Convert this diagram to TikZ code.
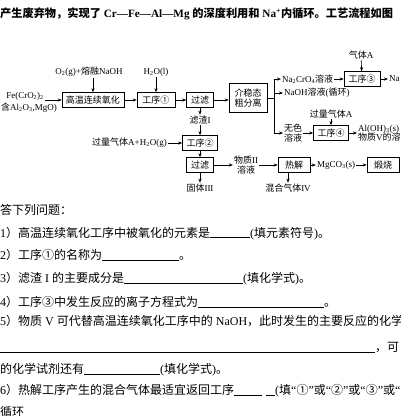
\documentclass[tikz,border=0pt]{standalone}
\usepackage{fontspec}
\setmainfont{Liberation Serif}
\newfontfamily\cjk{Noto Sans CJK SC}
\usetikzlibrary{arrows.meta}
% switch to the CJK font by character class
\XeTeXinterchartokenstate=1
\newXeTeXintercharclass\cjkcls
\newcount\cjkc
\newcommand\setcjk[2]{\cjkc=#1\relax
  \loop\XeTeXcharclass\cjkc=\cjkcls\relax
  \ifnum\cjkc<#2\relax\advance\cjkc by 1\repeat}
\setcjk{"4E00}{"9FFF}
\setcjk{"3000}{"303F}
\setcjk{"FF00}{"FFEF}
\setcjk{"2460}{"2473}
\XeTeXcharclass"201C=0 \XeTeXcharclass"201D=0 \XeTeXcharclass"2014=0
\XeTeXinterchartoks 0 \cjkcls={\cjk}
\XeTeXinterchartoks 4095 \cjkcls={\cjk}
\XeTeXinterchartoks \cjkcls 0={\rmfamily}
\XeTeXinterchartoks \cjkcls 4095={\rmfamily}
\newcommand\fs{\fontsize{9}{11.5}\selectfont}
\newcommand\qs{\fontsize{12}{14}\selectfont}
\newcommand\ts{\fontsize{11.2}{14}\selectfont\bfseries}
\newcommand\blank[1]{\rule[-0.5pt]{#1}{0.5pt}}
\tikzset{
  procbox/.style={draw, line width=0.6pt, minimum height=15pt, inner xsep=4pt, inner ysep=1pt, font=\fs},
  txt/.style={inner sep=1pt, font=\fs, align=center},
  arr/.style={-{Stealth[length=4pt,width=3.2pt]}, line width=0.6pt},
  qline/.style={anchor=base west, inner sep=0pt, font=\qs},
}
\begin{document}
\begin{tikzpicture}[x=1pt,y=-1pt]
  \fill[white] (0,0) rectangle (400,416);
  \useasboundingbox (0,0) rectangle (400,416);
  \clip (0,0) rectangle (400,416);
  % heading line
  \node[qline, font=\ts] (title) at (0,17.5) {产生废弃物，实现了 Cr—Fe—Al—Mg 的深度利用和 Na\textsuperscript{+}内循环。工艺流程如图};
  % flow chart
  \node[txt] (feed) at (25,96) {Fe(CrO\textsubscript{2})\textsubscript{2}};
  \node[txt, anchor=west] (feed2) at (0,108) {含Al\textsubscript{2}O\textsubscript{3},MgO)};
  \node[procbox, minimum width=60] (gw) at (93,100) {高温连续氧化};
  \node[procbox, minimum width=38] (p1) at (156,100) {工序①};
  \node[procbox, minimum width=27] (f1) at (200,100) {过滤};
  \node[procbox, minimum width=38, minimum height=29, align=center] (js) at (248,98) {介稳态\\[-1pt]粗分离};
  \node[txt] (o2) at (89,72) {O\textsubscript{2}(g)+熔融NaOH};
  \node[txt] (h2o) at (156,72) {H\textsubscript{2}O(l)};
  \draw[arr] (feed.east |- gw) -- (gw);
  \draw[arr] (o2.south -| gw) -- (gw);
  \draw[arr] (h2o) -- (p1);
  \draw[arr] (gw) -- (p1);
  \draw[arr] (p1) -- (f1);
  \draw[arr] (f1) -- (f1 -| js.west);
  % splitting after the separation
  \coordinate (br) at (274,98);
  \node[txt, anchor=west] (nc) at (281,79) {Na\textsubscript{2}CrO\textsubscript{4}溶液};
  \node[txt, anchor=west] (nh) at (283,93) {NaOH溶液(循环)};
  \node[txt, anchor=west] (ws) at (283,133) {无色\\[-2pt]溶液};
  \draw[line width=0.6pt] (js.east) -- (br);
  \draw[line width=0.6pt] (br |- nc) -- (br |- ws);
  \draw[arr] (br |- nc) -- (nc);
  \draw[arr] (br |- nh) -- (nh);
  \draw[arr] (br |- ws) -- (ws);
  \node[procbox, minimum width=36] (p3) at (362,79) {工序③};
  \node[txt] (ga) at (361,55) {气体A};
  \node[txt, anchor=west] (na) at (388,79) {Na};
  \draw[arr] (nc) -- (p3);
  \draw[arr] (ga) -- (p3);
  \draw[arr] (p3) -- (na);
  \node[txt] (gl) at (331,114) {过量气体A};
  \node[procbox, minimum width=34] (p4) at (331,133) {工序④};
  \node[txt, anchor=west, align=left] (al) at (357,133) {Al(OH)\textsubscript{3}(s)\\[-2pt]物质V的溶};
  \draw[arr] (gl) -- (p4);
  \draw[arr] (ws) -- (p4);
  \draw[arr] (p4) -- (al);
  % lower branch
  \node[txt] (lz) at (200,120) {滤渣I};
  \node[procbox, minimum width=29] (p2) at (200,143) {工序②};
  \node[txt, anchor=east] (gq) at (168,143) {过量气体A+H\textsubscript{2}O(g)};
  \node[procbox, minimum width=27] (f2) at (200,165) {过滤};
  \node[txt] (gt) at (200,188) {固体III};
  \node[txt] (w2) at (246,165) {物质II\\[-1pt]溶液};
  \node[procbox, minimum width=32] (rj) at (294,165) {热解};
  \node[txt] (hq) at (288,188) {混合气体IV};
  \node[txt] (mg) at (336,165) {MgCO\textsubscript{3}(s)};
  \node[procbox, minimum width=32] (ds) at (383,165) {煅烧};
  \draw[arr] (f1) -- (lz);
  \draw[arr] (lz) -- (p2);
  \draw[arr] (gq) -- (p2);
  \draw[arr] (p2) -- (f2);
  \draw[arr] (f2) -- (gt);
  \draw[arr] (f2) -- (w2);
  \draw[arr] (w2) -- (rj);
  \draw[arr] (rj.south -| hq) -- (hq);
  \draw[arr] (rj) -- (mg);
  \draw[arr] (mg) -- (ds);
  % questions
  \node[qline] (q0) at (0,214.5) {答下列问题：};
  \node[qline] (q1) at (0,237) {1）高温连续氧化工序中被氧化的元素是\blank{40pt}(填元素符号)。};
  \node[qline] (q2) at (0,259.5) {2）工序①的名称为\blank{77pt}。};
  \node[qline] (q3) at (0,282.5) {3）滤渣 I 的主要成分是\blank{119pt}(填化学式)。};
  \node[qline] (q4) at (0,306.5) {4）工序③中发生反应的离子方程式为\blank{126pt}。};
  \node[qline] (q5) at (0,325.5) {5）物质 V 可代替高温连续氧化工序中的 NaOH，此时发生的主要反应的化学方};
  \node[qline] (q5b) at (0,351.5) {\blank{375pt}，可};
  \node[qline] (q5c) at (0,373.5) {的化学试剂还有\blank{76pt}(填化学式)。};
  \node[qline] (q6) at (0,394.5) {6）热解工序产生的混合气体最适宜返回工序\blank{28pt}\hspace{4pt}\blank{9pt}(填“①”或“②”或“③”或“};
  \node[qline] (q6b) at (0,416.5) {循环};
\end{tikzpicture}
\end{document}
